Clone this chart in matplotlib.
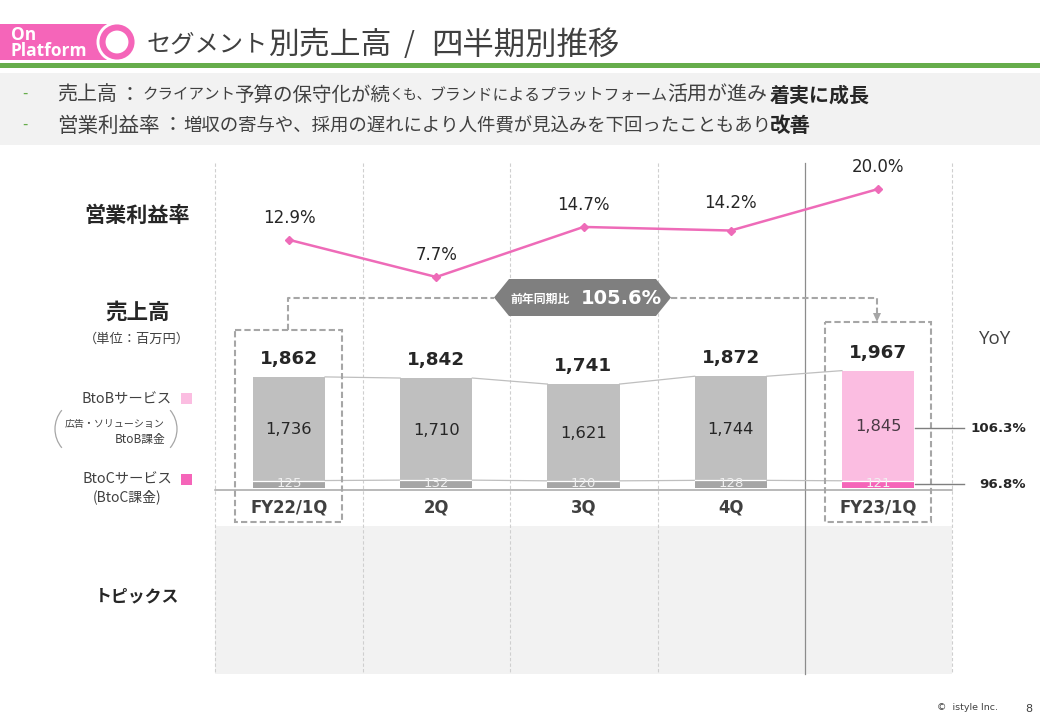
import matplotlib
matplotlib.use("Agg")
import matplotlib.pyplot as plt
from matplotlib.patches import Rectangle, Polygon, Circle, Arc

JP = ["Noto Sans CJK JP", "DejaVu Sans"]
plt.rcParams["font.family"] = JP

quarters = ["FY22/1Q", "2Q", "3Q", "4Q", "FY23/1Q"]
btob = [1736, 1710, 1621, 1744, 1845]
btoc = [125, 132, 120, 128, 121]
totals = ["1,862", "1,842", "1,741", "1,872", "1,967"]
margin = [12.9, 7.7, 14.7, 14.2, 20.0]
yoy_labels = ["106.3%", "96.8%"]

GREY_L, GREY_D = "#BFBFBF", "#A6A6A6"
PINK_L, PINK_D = "#FBBDE1", "#F565B9"
DARK, MID = "#262626", "#404040"

W, H = 1040, 720
fig = plt.figure(figsize=(10.4, 7.2), dpi=100, facecolor="white")


def px_axes(left, top, right, bottom, z):
    a = fig.add_axes([left / W, 1 - bottom / H, (right - left) / W, (bottom - top) / H], zorder=z)
    a.patch.set_alpha(0)
    a.axis("off")
    return a


bg = px_axes(0, 0, W, H, 0)
bg.set_xlim(0, W)
bg.set_ylim(H, 0)
fg = px_axes(0, 0, W, H, 5)
fg.set_xlim(0, W)
fg.set_ylim(H, 0)

# header
bg.add_patch(Rectangle((0, 24), 108, 36, fc=PINK_D, ec="none"))
bg.add_patch(Circle((117, 42), 20.5, fc="white", ec="none"))
bg.add_patch(Circle((117, 42), 14.5, fc="white", ec=PINK_D, lw=4.4))
bg.add_patch(Rectangle((0, 63), W, 4.5, fc="#66AD4B", ec="none"))
bg.add_patch(Rectangle((0, 73), W, 72, fc="#F2F2F2", ec="none"))
bg.add_patch(Rectangle((215, 526), 737, 148, fc="#F2F2F2", ec="none"))
fg.text(11, 35, "On", color="white", fontsize=12.5, fontweight="bold", family="Open Sans", va="center")
fg.text(11, 51, "Platform", color="white", fontsize=12.5, fontweight="bold", family="Open Sans", va="center")

for txt, x, size in [("セグメント", 147, 17.5), ("別売上高", 268, 22.2), ("/", 404, 20), ("四半期別推移", 431, 22.6)]:
    fg.text(x, 45, txt, color=MID, fontsize=size, va="center")

fg.text(22, 93, "-", color="#66AD4B", fontsize=11, va="center")
fg.text(22, 124, "-", color="#66AD4B", fontsize=11, va="center")
line1 = [("売上高", 57, 14.4, "normal", MID), ("：", 120, 14.4, "normal", MID),
         ("クライアント", 142, 11.2, "normal", MID), ("予算の保守化が続", 235, 14, "normal", MID),
         ("くも、", 390, 10, "normal", MID), ("ブランドによるプラットフォーム", 430, 11.4, "normal", MID),
         ("活用が進み", 667, 14.4, "normal", MID), ("着実に成長", 770, 14.4, "bold", DARK)]
for txt, x, size, wt, col in line1:
    fg.text(x, 95, txt, color=col, fontsize=size, fontweight=wt, va="center")
line2 = [("営業利益率", 57, 14.8, "normal", MID), ("：", 163, 14.4, "normal", MID),
         ("増収の寄与や、採用の遅れにより人件費が見込みを下回ったこともあり", 183, 13.25, "normal", MID),
         ("改善", 770, 14.8, "bold", DARK)]
for txt, x, size, wt, col in line2:
    fg.text(x, 126, txt, color=col, fontsize=size, fontweight=wt, va="center")

# grid guides
for x in (215, 363, 510, 658, 952):
    bg.plot([x, x], [163, 674], color="#CFCFCF", lw=0.8, ls=(0, (3, 2)))
bg.plot([805, 805], [163, 674], color="#8C8C8C", lw=0.9)
bg.plot([215, 952], [489.5, 489.5], color="#A6A6A6", lw=1.1)

# stacked bars
ax = px_axes(215, 164, 952, 488, 2)
ax.set_xlim(-0.5025, 4.5025)
ax.set_ylim(0, 324 / 0.0597)
colors_top = [GREY_L] * 4 + [PINK_L]
colors_bot = [GREY_D] * 4 + [PINK_D]
pos = list(range(len(quarters)))
ax.bar(pos, btoc, width=0.49, color=colors_bot, edgecolor="none")
ax.bar(pos, btob, width=0.49, bottom=btoc, color=colors_top, edgecolor="none")
HB = 0.245
for i in pos:
    ax.plot([i - HB, i + HB], [btoc[i], btoc[i]], color="white", lw=0.9)
    ax.annotate(f"{btob[i]:,}", (i, btoc[i] + btob[i] / 2), xytext=(0, -0.7), textcoords="offset points",
                ha="center", va="center", fontsize=11.8,
                family="DejaVu Sans", color="#4A3A45" if i == 4 else DARK)
    ax.text(i, btoc[i] * 0.62, f"{btoc[i]}", ha="center", va="center", fontsize=9.5,
            family="DejaVu Sans", color="#F0F0F0")
    ax.annotate(totals[i], (i, btoc[i] + btob[i]), xytext=(0, 13), textcoords="offset points",
                ha="center", va="center", fontsize=13.2, fontweight="bold",
                family="DejaVu Sans", color=DARK)
    if i < 4:
        ax.plot([i + HB, i + 1 - HB], [btoc[i] + btob[i], btoc[i + 1] + btob[i + 1]], color="#BFBFBF", lw=0.9)
        ax.plot([i + HB, i + 1 - HB], [btoc[i], btoc[i + 1]], color="#BFBFBF", lw=0.9)

# operating margin line
lx = px_axes(215, 164, 952, 290, 3)
lx.set_xlim(-0.5025, 4.5025)
lx.set_ylim(7.7 - 13 / 7.15, 7.7 + 113 / 7.15)
lx.plot(pos, margin, color="#EE6BB8", lw=1.8, marker="D", ms=4.5, mfc="#EE6BB8", mec="#EE6BB8")
for i in pos:
    off = 19.5 if i == 3 else 15.8
    lx.annotate(f"{margin[i]:.1f}%", (i, margin[i]), xytext=(0, off), textcoords="offset points",
                ha="center", va="center", fontsize=12, family="DejaVu Sans", color=DARK)

# dashed highlight boxes and bracket
dash = dict(color="#A6A6A6", lw=1.5, ls=(0, (3, 1.5)))
fg.add_patch(Rectangle((235, 330), 107, 192, fc="none", ec="#A6A6A6", lw=1.5, ls=(0, (3, 1.5))))
fg.add_patch(Rectangle((825, 322), 106, 200, fc="none", ec="#A6A6A6", lw=1.5, ls=(0, (3, 1.5))))
fg.plot([288, 288, 494], [330, 297.5, 297.5], **dash)
fg.plot([671, 877, 877], [297.5, 297.5, 314], **dash)
fg.add_patch(Polygon([(877, 322), (873, 313), (881, 313)], fc="#A6A6A6", ec="none"))
fg.add_patch(Polygon([(494, 297.5), (509, 279), (656, 279), (671, 297.5), (656, 316), (509, 316)],
                     fc="#7F7F7F", ec="none"))
fg.text(540, 299, "前年同期比", color="white", fontsize=8.6, fontweight="bold", ha="center", va="center")
fg.text(621, 298, "105.6%", color="white", fontsize=14, fontweight="bold", family="DejaVu Sans",
        ha="center", va="center")

# left labels
fg.text(137, 215, "営業利益率", color=DARK, fontsize=15.2, fontweight="bold", ha="center", va="center")
fg.text(138, 312, "売上高", color=DARK, fontsize=15.5, fontweight="bold", ha="center", va="center")
fg.text(137, 339, "（単位：百万円）", color=MID, fontsize=9.5, ha="center", va="center")
fg.text(172, 399, "BtoBサービス", color=MID, fontsize=10.3, ha="right", va="center")
fg.add_patch(Rectangle((181, 393), 11, 11, fc=PINK_L, ec="none"))
fg.text(165, 424, "広告・ソリューション", color=MID, fontsize=7.2, ha="right", va="center")
fg.text(165, 439, "BtoB課金", color=MID, fontsize=8.5, ha="right", va="center")
fg.add_patch(Arc((84.3, 429), 58.6, 58.6, theta1=140, theta2=220, color="#A6A6A6", lw=0.9))
fg.add_patch(Arc((147.7, 429), 58.6, 58.6, theta1=-40, theta2=40, color="#A6A6A6", lw=0.9))
fg.text(172, 479, "BtoCサービス", color=MID, fontsize=10.3, ha="right", va="center")
fg.add_patch(Rectangle((181, 474), 11, 11, fc=PINK_D, ec="none"))
fg.text(127.5, 497, "(BtoC課金)", color=MID, fontsize=10, ha="center", va="center")
fg.text(137, 596, "トピックス", color=DARK, fontsize=12.2, fontweight="bold", ha="center", va="center")

# category labels
for i, q in enumerate(quarters):
    fg.text(289 + i * 147.25, 507.5, q, color=MID, fontsize=11.9, fontweight="bold",
            family="DejaVu Sans", ha="center", va="center")

# YoY
fg.text(995, 339, "YoY", color=MID, fontsize=13.5, family="Open Sans", ha="center", va="center")
fg.plot([915, 964], [428, 428], color="#7F7F7F", lw=1)
fg.plot([915, 964], [484, 484], color="#7F7F7F", lw=1)
fg.text(1026, 428, yoy_labels[0], color=DARK, fontsize=9.6, fontweight="bold", family="DejaVu Sans",
        ha="right", va="center")
fg.text(1026, 484, yoy_labels[1], color=DARK, fontsize=9.6, fontweight="bold", family="DejaVu Sans",
        ha="right", va="center")

# footer
fg.text(998, 708, "©  istyle Inc.", color=MID, fontsize=6.8, family="DejaVu Sans", ha="right", va="center")
fg.text(1029, 709, "8", color=MID, fontsize=8, family="DejaVu Sans", ha="center", va="center")

fig.savefig("out.png", dpi=100)
